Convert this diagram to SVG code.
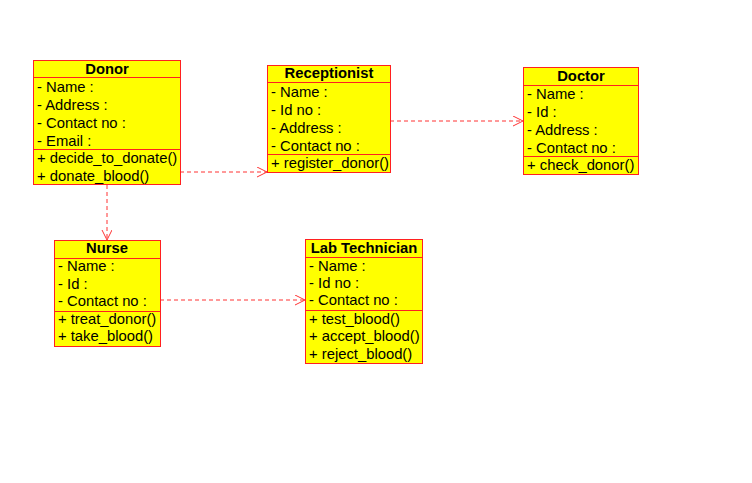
<svg xmlns="http://www.w3.org/2000/svg" width="752" height="483" viewBox="0 0 752 483">
<style>
.box{fill:#ffff00;stroke:#ff2020;stroke-width:1}
.sep{stroke:#ff2020;stroke-width:1}
text{font-family:"Liberation Sans",Arial,sans-serif;font-size:14.8px;fill:#000}
.h{font-weight:bold;text-anchor:middle}
.conn{fill:none;stroke:#ff3333;stroke-width:1;stroke-dasharray:4,3}
</style>
<defs>
<marker id="arr" markerWidth="12" markerHeight="12" refX="10" refY="5" orient="auto" markerUnits="userSpaceOnUse">
<path d="M0,0 L10,5 L0,10" fill="none" stroke="#ff3333" stroke-width="1"/>
</marker>
</defs>
<rect width="752" height="483" fill="#fff"/>
<g id="connectors">
<line class="conn" x1="180" y1="172" x2="267" y2="172" marker-end="url(#arr)"/>
<line class="conn" x1="390" y1="121" x2="523" y2="121" marker-end="url(#arr)"/>
<line class="conn" x1="107" y1="185" x2="107" y2="240" marker-end="url(#arr)"/>
<line class="conn" x1="160" y1="300" x2="305" y2="300" marker-end="url(#arr)"/>
</g>
<g id="donor">
<rect class="box" x="33.5" y="60.5" width="147" height="124"/>
<line class="sep" x1="33.5" y1="77.5" x2="180.5" y2="77.5"/>
<line class="sep" x1="33.5" y1="149.5" x2="180.5" y2="149.5"/>
<text class="h" x="107" y="74">Donor</text>
<text x="37" y="92">- Name :</text>
<text x="37" y="110">- Address :</text>
<text x="37" y="128">- Contact no :</text>
<text x="37" y="146">- Email :</text>
<text x="37" y="163">+ decide_to_donate()</text>
<text x="37" y="181">+ donate_blood()</text>
</g>
<g id="receptionist">
<rect class="box" x="267.5" y="65.5" width="123" height="107"/>
<line class="sep" x1="267.5" y1="82.5" x2="390.5" y2="82.5"/>
<line class="sep" x1="267.5" y1="154.5" x2="390.5" y2="154.5"/>
<text class="h" x="329" y="78">Receptionist</text>
<text x="271" y="97">- Name :</text>
<text x="271" y="115">- Id no :</text>
<text x="271" y="133">- Address :</text>
<text x="271" y="151">- Contact no :</text>
<text x="271" y="168">+ register_donor()</text>
</g>
<g id="doctor">
<rect class="box" x="523.5" y="67.5" width="115" height="107"/>
<line class="sep" x1="523.5" y1="85.5" x2="638.5" y2="85.5"/>
<line class="sep" x1="523.5" y1="156.5" x2="638.5" y2="156.5"/>
<text class="h" x="581" y="81">Doctor</text>
<text x="527" y="99">- Name :</text>
<text x="527" y="117">- Id :</text>
<text x="527" y="135">- Address :</text>
<text x="527" y="153">- Contact no :</text>
<text x="527" y="170">+ check_donor()</text>
</g>
<g id="nurse">
<rect class="box" x="54.5" y="240.5" width="106" height="106"/>
<line class="sep" x1="54.5" y1="258.5" x2="160.5" y2="258.5"/>
<line class="sep" x1="54.5" y1="311.5" x2="160.5" y2="311.5"/>
<text class="h" x="107" y="253">Nurse</text>
<text x="58" y="271">- Name :</text>
<text x="58" y="289">- Id :</text>
<text x="58" y="306">- Contact no :</text>
<text x="58" y="324">+ treat_donor()</text>
<text x="58" y="341">+ take_blood()</text>
</g>
<g id="lab-technician">
<rect class="box" x="305.5" y="239.5" width="117" height="124"/>
<line class="sep" x1="305.5" y1="257.5" x2="422.5" y2="257.5"/>
<line class="sep" x1="305.5" y1="310.5" x2="422.5" y2="310.5"/>
<text class="h" x="364" y="253">Lab Technician</text>
<text x="309" y="271">- Name :</text>
<text x="309" y="288">- Id no :</text>
<text x="309" y="305">- Contact no :</text>
<text x="309" y="324">+ test_blood()</text>
<text x="309" y="341">+ accept_blood()</text>
<text x="309" y="359">+ reject_blood()</text>
</g>
</svg>
